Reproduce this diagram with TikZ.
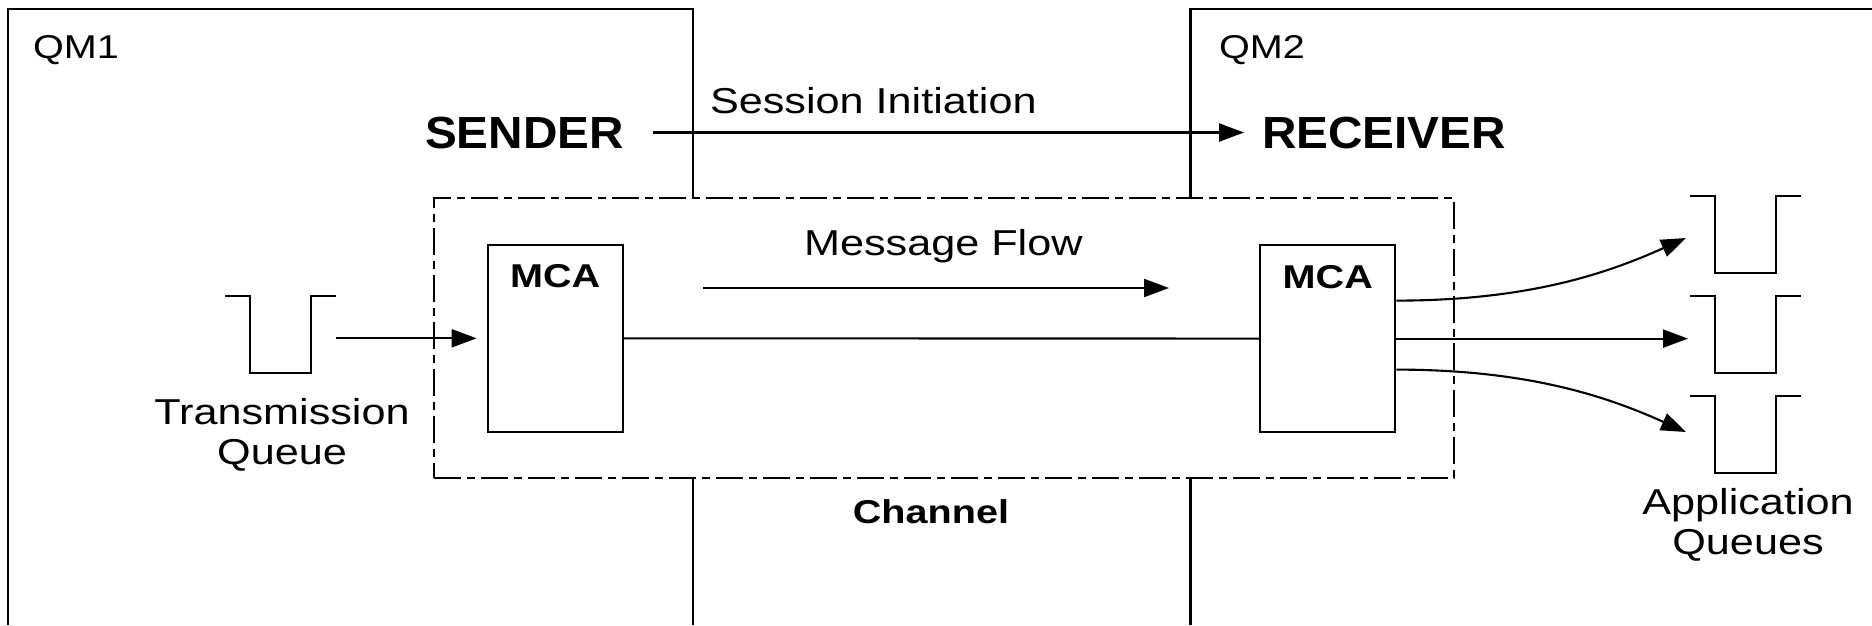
\documentclass[tikz,border=0pt]{standalone}
\usepackage{fontspec}
\setmainfont{Liberation Sans}[FakeStretch=1.2]
\newfontfamily\rolefont{Liberation Sans}[FakeStretch=1.06]
\usetikzlibrary{positioning,arrows.meta}

\begin{document}
\begin{tikzpicture}
[x=1pt,y=-1pt,line width=2.1pt,%
  every node/.style={inner sep=0pt},%
  mcabox/.style={draw,minimum width=135pt,minimum height=187pt},%
  chanbox/.style={draw,dash pattern=on 27pt off 6pt on 8pt off 6pt,
    minimum width=1020pt,minimum height=280pt},%
  flow/.style={-{Triangle[length=25pt,width=18pt]}},%
  txt/.style={font=\fontsize{36}{40}\selectfont,align=center},%
  qm/.style={font=\fontsize{33}{38}\selectfont},%
  role/.style={font=\rolefont\fontsize{45}{50}\selectfont\bfseries},%
  tag/.style={font=\fontsize{33}{38}\selectfont\bfseries}]
\useasboundingbox (0,0) rectangle (1872,625);
% channel and the two queue managers
\node[chanbox] (chan) at (944,338.3) {};
\draw (693,625) -- (693,478.3);
\draw (693,0 |- chan.north) -- (693,8.8) -- (8,8.8) -- (8,625);
\draw (1872,8.8) -- (1190.5,8.8) -- (1190.5,0 |- chan.north);
\draw (1190.5,478.3) -- (1190.5,625);
\node[qm,anchor=base west] (qm1) at (32,58) {QM1};
\node[qm,anchor=base west] (qm2) at (1218,58) {QM2};
\node[tag,anchor=base] (chlab) at (931,523) {Channel};
% sender and receiver
\node[role,anchor=base west] (sender) at (424,148) {SENDER};
\node[role,anchor=base west] (receiver) at (1261,148) {RECEIVER};
\draw[flow,shorten <=28pt,shorten >=17pt] (sender) -- (receiver);
\node[txt,anchor=base west] (sess) at (709,113.3) {Session Initiation};
% message channel agents
\node[mcabox] (mcaL) at (555.2,338.3) {};
\node[mcabox] (mcaR) at (1327.8,338.6) {};
\node[tag,below=20pt of mcaL.north] (mcaLt) {MCA};
\node[tag,below=20pt of mcaR.north] (mcaRt) {MCA};
\draw (mcaL) -- (mcaR);
\coordinate (mf1) at (703,288);
\coordinate (mf2) at (1169,288);
\draw[flow] (mf1) -- (mf2);
\node[txt,anchor=base west] (msg) at (803,255) {Message Flow};
% transmission queue
\draw (225,295.6) -- ++(25,0) -- ++(0,77) -- ++(61,0) -- ++(0,-77)
  -- ++(25,0) coordinate (tq);
\draw[flow,shorten >=10pt] (tq |- mcaL.west) -- (mcaL.west);
\node[txt,anchor=north] (tqlab) at (282,397) {Transmission\\Queue};
% application queues
\foreach \y in {195.7,295.7,396}
  \draw (1690,\y) -- ++(25,0) -- ++(0,77) -- ++(61,0) -- ++(0,-77) -- ++(24.5,0);
\coordinate (aq1) at (1686,238);
\coordinate (aq2) at (1688,338);
\coordinate (aq3) at (1686,432);
\draw[flow] ([yshift=38pt]mcaR.east) .. controls +(135,0) and +(-76,34) .. (aq1);
\draw[flow] (mcaR.east) -- (mcaR.east -| aq2);
\draw[flow] ([yshift=-31pt]mcaR.east) .. controls +(135,0) and +(-76,-34) .. (aq3);
\node[txt,anchor=north] (aqlab) at (1748,487) {Application\\Queues};
\end{tikzpicture}
\end{document}
